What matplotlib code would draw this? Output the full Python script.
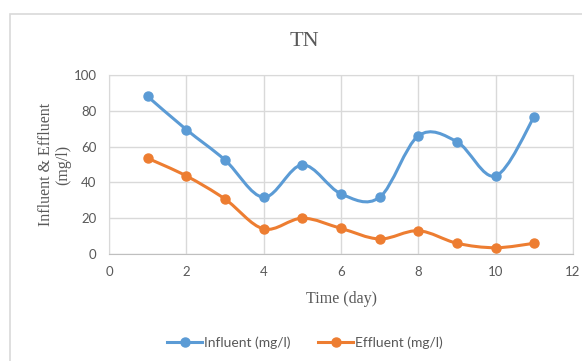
import matplotlib
matplotlib.use("Agg")
import matplotlib.pyplot as plt
from matplotlib.path import Path
from matplotlib.patches import PathPatch, Rectangle
from matplotlib.lines import Line2D

days = [1, 2, 3, 4, 5, 6, 7, 8, 9, 10, 11]
influent = [88, 69.5, 52.5, 31.7, 49.8, 33.6, 31.7, 66, 62.7, 43.6, 76.8]
effluent = [53.5, 43.6, 30.7, 14, 20, 14.3, 8.4, 13, 6, 3.5, 6]

BLUE = "#5B9BD5"
ORANGE = "#ED7D31"
GRID = "#D9D9D9"
TEXT = "#595959"


def smooth_path(xs, ys):
    # excel style smoothed line: cubic bezier with catmull-rom control points
    pts = list(zip(xs, ys))
    verts = [pts[0]]
    codes = [Path.MOVETO]
    n = len(pts)
    for i in range(n - 1):
        p0 = pts[i - 1] if i > 0 else pts[i]
        p1 = pts[i]
        p2 = pts[i + 1]
        p3 = pts[i + 2] if i + 2 < n else pts[i + 1]
        c1 = (p1[0] + (p2[0] - p0[0]) / 6, p1[1] + (p2[1] - p0[1]) / 6)
        c2 = (p2[0] - (p3[0] - p1[0]) / 6, p2[1] - (p3[1] - p1[1]) / 6)
        verts += [c1, c2, p2]
        codes += [Path.CURVE4] * 3
    return Path(verts, codes)


fig = plt.figure(figsize=(5.82, 3.61), dpi=100)
fig.patches.append(Rectangle((10 / 582, -0.1), 1.2, 1 - 14 / 361 + 0.1,
                             transform=fig.transFigure, fill=False,
                             edgecolor=GRID, linewidth=1.2))

ax = fig.add_axes([109 / 582, 1 - 254 / 361, (573 - 109) / 582, (254 - 75) / 361])

for vals, col in [(influent, BLUE), (effluent, ORANGE)]:
    ax.add_patch(PathPatch(smooth_path(days, vals), facecolor="none",
                           edgecolor=col, linewidth=2.2, capstyle="round",
                           zorder=3))
    ax.plot(days, vals, "o", color=col, markersize=6.5, zorder=4)

ax.set_xlim(0, 12)
ax.set_ylim(0, 100)
ax.set_xticks(range(0, 13, 2))
ax.set_yticks(range(0, 101, 20))
ax.grid(True, color=GRID, linewidth=1)
ax.set_axisbelow(True)
for s in ax.spines.values():
    s.set_color(GRID)
ax.spines["bottom"].set_color("#BFBFBF")
ax.tick_params(length=0, colors=TEXT, labelsize=9.5, pad=9)
for lab in ax.get_xticklabels() + ax.get_yticklabels():
    lab.set_fontfamily("Lato")

fig.text(304 / 582, 1 - 41 / 361, "TN", family="Liberation Serif",
         fontsize=16, color=TEXT, ha="center", va="center")
ax.set_xlabel("Time (day)", family="Liberation Serif", fontsize=11.5,
              color=TEXT, labelpad=9)
ax.set_ylabel("Influent & Effluent\n(mg/l)", family="Liberation Serif",
              fontsize=11.5, color=TEXT, labelpad=1.5, linespacing=1.1)

handles = [
    Line2D([], [], color=BLUE, marker="o", markersize=6.5, linewidth=2.2),
    Line2D([], [], color=ORANGE, marker="o", markersize=6.5, linewidth=2.2),
]
leg = fig.legend(handles, ["Influent (mg/l)", "Effluent (mg/l)"],
                 loc="center", bbox_to_anchor=(305 / 582, 1 - 343 / 361),
                 ncol=2, frameon=False, handlelength=2.5, handletextpad=0.15,
                 columnspacing=2.0, prop={"family": "Lato", "size": 10})
for t in leg.get_texts():
    t.set_color(TEXT)

fig.savefig("out.png", dpi=100)
